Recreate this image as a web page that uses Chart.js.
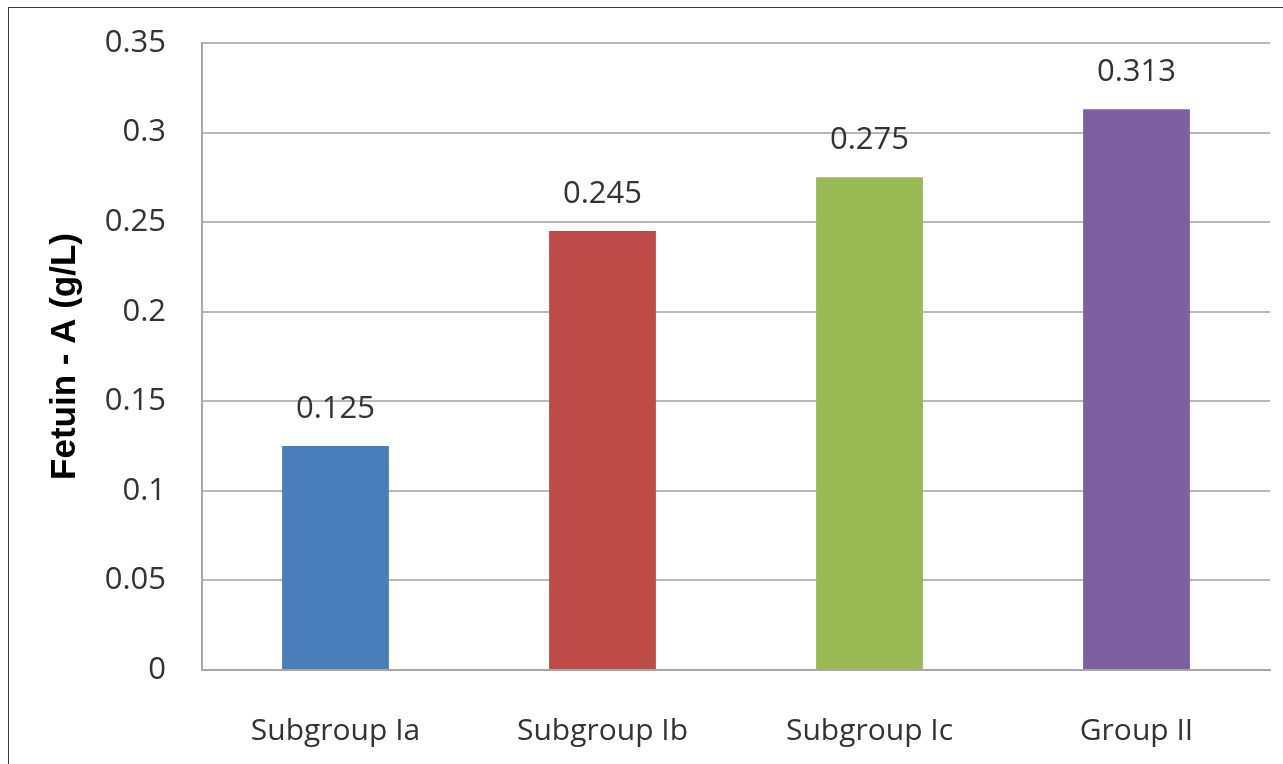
<!DOCTYPE html>
<html>
<head>
<meta charset="utf-8">
<script src="https://cdn.jsdelivr.net/npm/chart.js@4.4.0/dist/chart.umd.min.js"></script>
<style>
  html, body { margin: 0; padding: 0; background: #fff; overflow: hidden; }
  #wrap { position: relative; width: 1283px; height: 764px; }
  #frame { position: absolute; left: 8px; top: 7px; width: 1300px; height: 800px; border: 1px solid #3a3a3a; }
  canvas { position: absolute; left: 0; top: 0; }
</style>
</head>
<body>
<div id="wrap">
  <div id="frame"></div>
  <canvas id="chart" width="1283" height="764"></canvas>
</div>
<script>
// dados do gráfico
const categories = ['Subgroup Ia', 'Subgroup Ib', 'Subgroup Ic', 'Group II'];
const fetuinValues = [0.125, 0.245, 0.275, 0.313];
const barColors = ['#4a7ebb', '#be4b48', '#98b954', '#7d60a0'];
const yTicks = [0, 0.05, 0.1, 0.15, 0.2, 0.25, 0.3, 0.35];

const FONT = '"Open Sans", Lato, sans-serif';

// rótulos de valor acima das barras
const valueLabels = {
    id: 'valueLabels',
    afterDatasetsDraw(chart) {
        const ctx = chart.ctx;
        const meta = chart.getDatasetMeta(0);
        ctx.save();
        ctx.fillStyle = '#333';
        ctx.font = '31px ' + FONT;
        ctx.textAlign = 'center';
        ctx.textBaseline = 'middle';
        meta.data.forEach(function(bar, i) {
            ctx.fillText(String(fetuinValues[i]), bar.x, bar.y - 37);
        });
        ctx.restore();
    }
};

new Chart(document.getElementById('chart').getContext('2d'), {
    type: 'bar',
    data: {
        labels: categories,
        datasets: [{
            data: fetuinValues,
            backgroundColor: barColors,
            borderWidth: 0,
            categoryPercentage: 1,
            barPercentage: 0.4
        }]
    },
    options: {
        responsive: false,
        animation: false,
        layout: { padding: { top: 43, right: 13, bottom: 0, left: 0 } },
        plugins: {
            legend: { display: false },
            tooltip: { enabled: false }
        },
        scales: {
            x: {
                grid: { display: false, drawTicks: false },
                border: { color: '#a8a8a8', width: 2 },
                ticks: { color: '#333', font: { family: FONT, size: 30 }, padding: 43 },
                afterFit: function(scale) {
                    scale.height = 94;
                    scale.paddingLeft = 0;
                    scale.paddingRight = 0;
                }
            },
            y: {
                min: 0,
                max: 0.35,
                afterBuildTicks: function(scale) {
                    scale.ticks = yTicks.map(function(v) { return { value: v }; });
                },
                grid: { color: '#b8b8b8', lineWidth: 2, drawTicks: false },
                border: { color: '#a8a8a8', width: 2 },
                ticks: {
                    color: '#333',
                    font: { family: FONT, size: 31 },
                    padding: 36,
                    callback: function(v) { return String(v); }
                },
                title: {
                    display: true,
                    text: 'Fetuin - A (g/L)',
                    color: '#000',
                    font: { family: 'Liberation Sans, Arial, sans-serif', size: 35, weight: 'bold' },
                    padding: { top: 44, bottom: 0 }
                },
                afterFit: function(scale) {
                    scale.width = 202;
                    scale.paddingTop = 0;
                    scale.paddingBottom = 0;
                }
            }
        }
    },
    plugins: [valueLabels]
});
</script>
</body>
</html>
